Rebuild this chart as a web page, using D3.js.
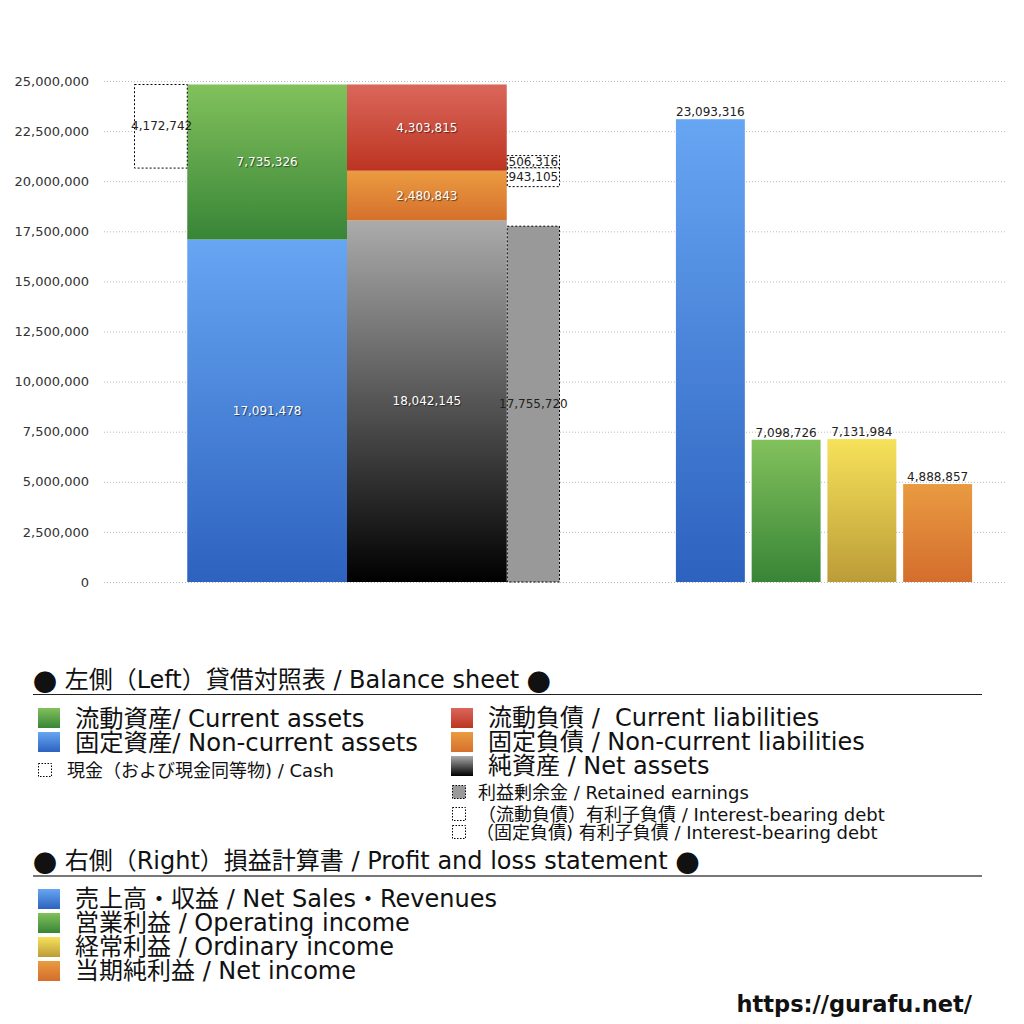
<!DOCTYPE html>
<html><head><meta charset="utf-8">
<script src="https://cdn.jsdelivr.net/npm/d3@7"></script>
<style>
body{margin:0;background:#fff;}
svg{display:block;font-family:"DejaVu Sans","Noto Sans CJK JP",sans-serif;}
</style></head>
<body><svg id="c" width="1024" height="1024"></svg>
<script>
// ---- data ----
const yTicks = [0,2500000,5000000,7500000,10000000,12500000,15000000,17500000,20000000,22500000,25000000];
const cashValue = 4172742;
const assetCats = ["固定資産","流動資産"];
const assetValues = [17091478, 7735326];
const liabCats = ["純資産","固定負債","流動負債"];
const liabValues = [18042145, 2480843, 4303815];
const retainedEarnings = 17755720;
const debtCats = ["固定負債 有利子負債","流動負債 有利子負債"];
const debtValues = [943105, 506316];
const plCats = ["売上高・収益","営業利益","経常利益","当期純利益"];
const plValues = [23093316, 7098726, 7131984, 4888857];

// ---- setup ----
const svg = d3.select("#c");
const fmt = d3.format(",");
const y = d3.scaleLinear().domain([0,25000000]).range([582,81]);
const xl = d3.scaleLinear().domain([0,8]).range([134,560]); // left group slots
const xr = d3.scaleBand().domain(plCats).range([672.5,975.5]).paddingInner(0.09).paddingOuter(0.045);

const defs = svg.append("defs");
function grad(id, top, bottom){
  const g = defs.append("linearGradient").attr("id",id).attr("x1",0).attr("y1",0).attr("x2",0).attr("y2",1);
  g.append("stop").attr("offset","0%").attr("stop-color",top);
  g.append("stop").attr("offset","100%").attr("stop-color",bottom);
}
grad("gBlue","#67a6f3","#2d62bf");
grad("gGreen","#82c15c","#388537");
grad("gRed","#da675b","#bd3421");
grad("gOrange","#eb9b41","#d5702c");
grad("gBlack","#ababab","#000000");
grad("gYellow","#f6e25a","#bc9c38");
grad("gOrange2","#e99b41","#d46d2d");

// gridlines
svg.append("g").selectAll("line").data(yTicks).join("line")
  .attr("x1",104).attr("x2",1005).attr("y1",d=>y(d)+0.5).attr("y2",d=>y(d)+0.5)
  .attr("stroke","#bbb").attr("stroke-width",1).attr("stroke-dasharray","1,2");

// y axis
const ax = svg.append("g").attr("transform","translate(104,0)")
  .call(d3.axisLeft(y).tickValues(yTicks).tickFormat(fmt).tickSize(0).tickPadding(15));
ax.select(".domain").remove();
ax.selectAll("text").attr("font-size",13).attr("fill","#333")
  .attr("font-family","'DejaVu Sans',sans-serif");

const whiteLbl = sel => sel.attr("fill","#fff").attr("font-size",12).attr("text-anchor","middle")
  .attr("dominant-baseline","central").style("text-shadow","1px 1px 1px rgba(0,0,0,0.55)");
const darkLbl = sel => sel.attr("fill","#222").attr("font-size",12).attr("text-anchor","middle")
  .attr("dominant-baseline","central");

// assets stack
const assetStack = [];
let acc = 0;
assetValues.forEach((v,i)=>{assetStack.push({cat:assetCats[i],v,y0:acc,y1:acc+v});acc+=v;});
const totalAssets = acc;
const assetFills = ["url(#gBlue)","url(#gGreen)"];
svg.append("g").selectAll("rect").data(assetStack).join("rect")
  .attr("x",xl(1)).attr("width",xl(4)-xl(1))
  .attr("y",d=>y(d.y1)).attr("height",d=>y(d.y0)-y(d.y1))
  .attr("fill",(d,i)=>assetFills[i]);
svg.append("g").selectAll("text").data(assetStack).join("text")
  .attr("x",(xl(1)+xl(4))/2).attr("y",d=>y((d.y0+d.y1)/2)).text(d=>fmt(d.v)).call(whiteLbl);

// cash box (top aligned with total assets)
svg.append("rect").attr("x",xl(0)+0.5).attr("width",xl(1)-xl(0)-0.5)
  .attr("y",y(totalAssets)).attr("height",y(totalAssets-cashValue)-y(totalAssets))
  .attr("fill","#fff").attr("stroke","#000").attr("stroke-width",1).attr("stroke-dasharray","2,2");
svg.append("text").attr("x",(xl(0)+xl(1))/2+1).attr("y",y(totalAssets-cashValue/2)).text(fmt(cashValue)).call(darkLbl);

// liabilities + net assets stack
const liabStack = [];
acc = 0;
liabValues.forEach((v,i)=>{liabStack.push({cat:liabCats[i],v,y0:acc,y1:acc+v});acc+=v;});
const liabFills = ["url(#gBlack)","url(#gOrange)","url(#gRed)"];
svg.append("g").selectAll("rect").data(liabStack).join("rect")
  .attr("x",xl(4)).attr("width",xl(7)-xl(4))
  .attr("y",d=>y(d.y1)).attr("height",d=>y(d.y0)-y(d.y1))
  .attr("fill",(d,i)=>liabFills[i]);
svg.append("g").selectAll("text").data(liabStack).join("text")
  .attr("x",(xl(4)+xl(7))/2).attr("y",d=>y((d.y0+d.y1)/2)).text(d=>fmt(d.v)).call(whiteLbl);

// retained earnings
svg.append("rect").attr("x",xl(7)+0.5).attr("width",xl(8)-xl(7)-1)
  .attr("y",y(retainedEarnings)).attr("height",y(0)-y(retainedEarnings))
  .attr("fill","#999").attr("stroke","#000").attr("stroke-width",1).attr("stroke-dasharray","2,2");
svg.append("text").attr("x",(xl(7)+xl(8))/2).attr("y",y(retainedEarnings/2)).text(fmt(retainedEarnings)).call(darkLbl);

// interest-bearing debt boxes, stacked around the noncurrent/current boundary
const boundary = liabStack[1].y1 + 150000;
const debtStack = [
  {cat:debtCats[0],v:debtValues[0],y0:boundary-debtValues[0],y1:boundary},
  {cat:debtCats[1],v:debtValues[1],y0:boundary,y1:boundary+debtValues[1]}
];
svg.append("g").selectAll("rect").data(debtStack).join("rect")
  .attr("x",xl(7)+0.5).attr("width",xl(8)-xl(7)-1)
  .attr("y",(d,i)=>y(d.y1)-(i===1?2:0)).attr("height",(d,i)=>y(d.y0)-y(d.y1)+(i===1?2:0))
  .attr("fill","#fff").attr("stroke","#000").attr("stroke-width",1).attr("stroke-dasharray","2,2");
svg.append("g").selectAll("text").data(debtStack).join("text")
  .attr("x",(xl(7)+xl(8))/2).attr("y",(d,i)=>y((d.y0+d.y1)/2)-(i===1?1:0)).text(d=>fmt(d.v)).call(darkLbl);

// P&L bars
const plFills = ["url(#gBlue)","url(#gGreen)","url(#gYellow)","url(#gOrange2)"];
svg.append("g").selectAll("rect").data(plCats).join("rect")
  .attr("x",d=>xr(d)).attr("width",xr.bandwidth())
  .attr("y",(d,i)=>y(plValues[i])).attr("height",(d,i)=>y(0)-y(plValues[i]))
  .attr("fill",(d,i)=>plFills[i]);
svg.append("g").selectAll("text").data(plCats).join("text")
  .attr("x",d=>xr(d)+xr.bandwidth()/2).attr("y",(d,i)=>y(plValues[i])-3)
  .attr("text-anchor","middle").attr("font-size",12).attr("fill","#222")
  .text((d,i)=>fmt(plValues[i]));

// ---- legend ----
const lg = svg.append("g");
function titleLine(parts, yy, lineY, lineColor, lineW){
  const t = lg.append("text").attr("x",33).attr("y",yy).attr("font-size",24).attr("fill","#111")
    .attr("dominant-baseline","central");
  parts.forEach(p=>{
    const s = t.append("tspan").text(p);
    if(p.trim()==="●") s.attr("font-family","'Noto Sans CJK JP',sans-serif");
  });
  lg.append("line").attr("x1",33).attr("x2",982).attr("y1",lineY).attr("y2",lineY)
    .attr("stroke",lineColor).attr("stroke-width",lineW);
}
titleLine(["●"," 左側（Left）貸借対照表 / Balance sheet ","●"],680,694.5,"#222",1.2);
titleLine(["●"," 右側（Right）損益計算書 / Profit and loss statement ","●"],861,876,"#777",2);

function item(x, yy, fill, txt, size, small){
  if(small){
    lg.append("rect").attr("x",x+0.5).attr("y",yy-6.5).attr("width",13).attr("height",13)
      .attr("fill",fill).attr("stroke","#000").attr("stroke-width",1).attr("stroke-dasharray","1.5,1.5");
  } else {
    lg.append("rect").attr("x",x).attr("y",yy-10).attr("width",22).attr("height",20).attr("fill",fill);
  }
  lg.append("text").attr("x",small? x+small : x+37).attr("y",yy).attr("font-size",size).attr("fill","#111")
    .attr("dominant-baseline","central").attr("xml:space","preserve").style("white-space","pre").text(txt);
}
item(38,718,"url(#gGreen)","流動資産/ Current assets",24.3);
item(38,742,"url(#gBlue)","固定資産/ Non-current assets",24.3);
item(38,770,"#fff","現金（および現金同等物) / Cash",18,29);
item(451,718,"url(#gRed)","流動負債 /  Current liabilities",24);
item(451,742,"url(#gOrange)","固定負債 / Non-current liabilities",24);
item(451,766,"url(#gBlack)","純資産 / Net assets",24);
item(452,792,"#999","利益剰余金 / Retained earnings",18,26);
item(452,814,"#fff","（流動負債）有利子負債 / Interest-bearing debt",18,26);
item(452,832,"#fff","（固定負債) 有利子負債 / Interest-bearing debt",18,24);

item(38,899,"url(#gBlue)","売上高・収益 / Net Sales・Revenues",24);
item(38,923,"url(#gGreen)","営業利益 / Operating income",24);
item(38,947,"url(#gYellow)","経常利益 / Ordinary income",24);
item(38,971,"url(#gOrange2)","当期純利益 / Net income",24);

svg.append("text").attr("x",972).attr("y",1004).attr("text-anchor","end")
  .attr("dominant-baseline","central").attr("font-size",22.5).attr("font-weight","bold")
  .attr("font-family","'DejaVu Sans',sans-serif").attr("fill","#111").text("https://gurafu.net/");
</script></body></html>
